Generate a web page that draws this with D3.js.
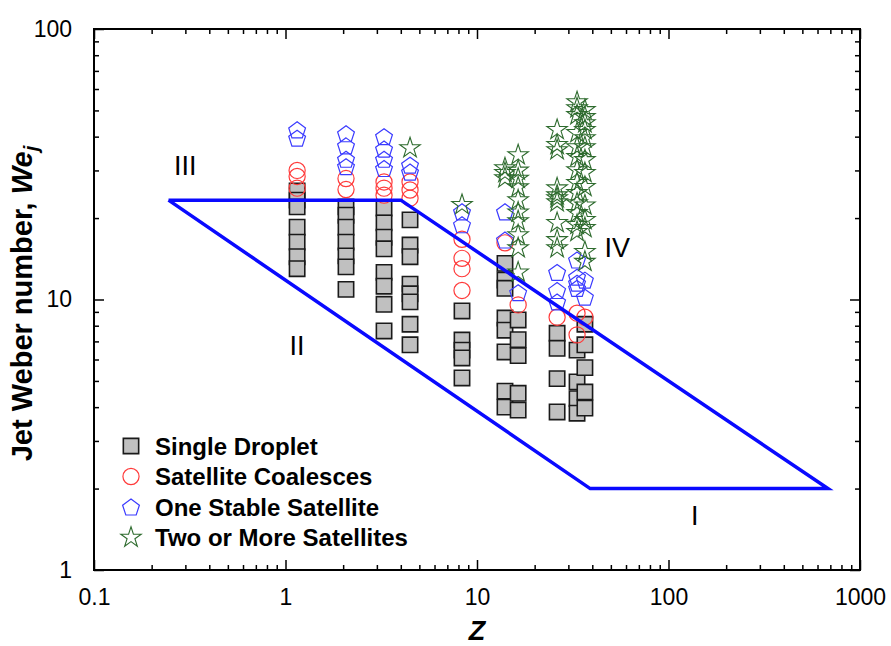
<!DOCTYPE html>
<html>
<head>
<meta charset="utf-8">
<script src="https://cdn.jsdelivr.net/npm/d3@7"></script>
<style>
  body { margin: 0; background: #fff; }
  svg { display: block; font-family: "Liberation Sans", Arial, sans-serif; }
</style>
</head>
<body>
<svg id="chart" width="891" height="646"></svg>
<script>
// Z column positions (one per group of measurements)
const colZ = [1.15, 2.07, 3.27, 4.47, 8.35, 14.0, 16.4, 26.2, 33.3, 36.6];

// We_j values per column
const singleDroplet = [
    [25.2, 23.3, 22.0, 18.5, 16.3, 14.4, 13.0],
    [22.0, 20.5, 18.5, 16.3, 14.5, 13.2, 10.9],
    [21.8, 19.2, 17.0, 15.4, 12.6, 11.2, 9.6, 7.65],
    [19.7, 15.9, 14.4, 11.4, 10.5, 9.8, 8.1, 6.8],
    [9.07, 7.08, 6.5, 6.08, 5.13],
    [13.6, 11.8, 11.0, 8.54, 7.7, 6.4, 4.58, 4.0],
    [8.4, 7.1, 6.2, 4.5, 3.9],
    [7.5, 6.6, 5.1, 3.84],
    [6.5, 4.96, 4.3, 3.8],
    [8.1, 6.8, 5.6, 4.55, 3.97]
];
const satelliteCoalesces = [
    [30.0, 28.5, 25.8],
    [28.0, 25.5],
    [27.2, 25.8, 24.3],
    [27.2, 25.4, 23.7],
    [16.7, 14.2, 13.0, 10.8],
    [16.2],
    [9.55],
    [8.6],
    [8.9, 7.4],
    [8.6]
];
const oneStableSatellite = [
    [42.4, 39.5],
    [41.0, 37.0, 33.0, 31.0],
    [40.0, 36.0, 33.0, 30.5],
    [31.4, 29.6],
    [21.1, 18.9],
    [21.1, 16.6],
    [10.6],
    [12.6, 10.8, 9.8],
    [14.0, 12.1, 11.5, 11.0],
    [11.8, 10.2]
];
const twoOrMoreSatellites = [
    [],
    [],
    [],
    [36.3],
    [22.4],
    [30.6, 29.4, 28.1],
    [34.2, 30.0, 28.0, 26.0, 23.3, 21.0, 19.5, 17.3, 15.5, 12.6],
    [42.4, 37.3, 35.7, 25.8, 24.3, 23.7, 22.9, 19.2, 16.6, 15.5],
    [53.7, 51.0, 48.1, 41.3, 36.6, 33.7, 30.1, 27.0, 24.8, 22.7, 20.9, 18.9, 17.8],
    [50.2, 47.3, 44.9, 42.4, 39.5, 36.6, 32.8, 29.4, 26.1, 22.3, 19.7, 18.4, 15.0, 13.8]
];

// regime boundary
const boundaryZ = [0.245, 4.0, 680, 39, 0.245];
const boundaryWe = [23.3, 23.3, 2.0, 2.0, 23.3];

// regime labels
const regionNames = ["III", "II", "IV", "I"];
const regionZ = [0.30, 1.15, 54, 137];
const regionWe = [31.4, 6.8, 15.6, 1.6];

const legendNames = ["Single Droplet", "Satellite Coalesces", "One Stable Satellite", "Two or More Satellites"];

const xTicks = [0.1, 1, 10, 100, 1000];
const yTicks = [1, 10, 100];

const margin = { left: 94, right: 31, top: 29, bottom: 76 };
const width = 891, height = 646;

const svg = d3.select("#chart");

const x = d3.scaleLog().domain([0.1, 1000]).range([margin.left, width - margin.right]);
const y = d3.scaleLog().domain([1, 100]).range([height - margin.bottom, margin.top]);

function minors(domain) {
    const out = [];
    for (let d = domain[0]; d < domain[1]; d *= 10)
        for (let k = 2; k <= 9; k++) out.push(d * k);
    return out;
}
const xMinor = minors(x.domain());
const yMinor = minors(y.domain());

// pentagon symbol, point up
const symbolPentagon = {
    draw(context, size) {
        const r = Math.sqrt(size / 2.3776);
        for (let i = 0; i < 5; i++) {
            const a = -Math.PI / 2 + i * 2 * Math.PI / 5;
            const px = r * Math.cos(a), py = r * Math.sin(a) + r * 0.1;
            if (i === 0) context.moveTo(px, py); else context.lineTo(px, py);
        }
        context.closePath();
    }
};

const styles = [
    { type: d3.symbolSquare, size: 235, fill: "#c0c0c0", stroke: "#1a1a1a", sw: 1.6 },
    { type: d3.symbolCircle, size: 205, fill: "none", stroke: "#ff3b3b", sw: 1.2 },
    { type: symbolPentagon, size: 185, fill: "none", stroke: "#3b3bff", sw: 1.2 },
    { type: d3.symbolStar, size: 130, fill: "none", stroke: "#2e6b2e", sw: 1.1 }
];

const series = [singleDroplet, satelliteCoalesces, oneStableSatellite, twoOrMoreSatellites];

// axes (ticks point inward on all sides)
const axisStyle = g => {
    g.select(".domain").remove();
    g.selectAll(".tick line").attr("stroke", "#000").attr("stroke-width", 1.5);
    g.selectAll(".tick text").attr("font-size", 23).attr("fill", "#000").attr("font-family", "Liberation Sans, Arial, sans-serif");
};

svg.append("g").attr("transform", `translate(0,${y.range()[0]})`)
    .call(d3.axisBottom(x).tickValues(xTicks).tickFormat(d3.format("")).tickSizeInner(-10).tickPadding(19))
    .call(axisStyle);
svg.append("g").attr("transform", `translate(0,${y.range()[0]})`)
    .call(d3.axisBottom(x).tickValues(xMinor).tickFormat("").tickSizeInner(-5))
    .call(axisStyle);
svg.append("g").attr("transform", `translate(0,${y.range()[1]})`)
    .call(d3.axisTop(x).tickValues(xTicks).tickFormat("").tickSizeInner(-10))
    .call(axisStyle);
svg.append("g").attr("transform", `translate(0,${y.range()[1]})`)
    .call(d3.axisTop(x).tickValues(xMinor).tickFormat("").tickSizeInner(-5))
    .call(axisStyle);
svg.append("g").attr("transform", `translate(${x.range()[0]},0)`)
    .call(d3.axisLeft(y).tickValues(yTicks).tickFormat(d3.format("")).tickSizeInner(-10).tickPadding(22))
    .call(axisStyle);
svg.append("g").attr("transform", `translate(${x.range()[0]},0)`)
    .call(d3.axisLeft(y).tickValues(yMinor).tickFormat("").tickSizeInner(-5))
    .call(axisStyle);
svg.append("g").attr("transform", `translate(${x.range()[1]},0)`)
    .call(d3.axisRight(y).tickValues(yTicks).tickFormat("").tickSizeInner(-10))
    .call(axisStyle);
svg.append("g").attr("transform", `translate(${x.range()[1]},0)`)
    .call(d3.axisRight(y).tickValues(yMinor).tickFormat("").tickSizeInner(-5))
    .call(axisStyle);

// frame
svg.append("rect")
    .attr("x", x.range()[0]).attr("y", y.range()[1])
    .attr("width", x.range()[1] - x.range()[0])
    .attr("height", y.range()[0] - y.range()[1])
    .attr("fill", "none").attr("stroke", "#000").attr("stroke-width", 2);

// markers
series.forEach((cols, si) => {
    const st = styles[si];
    const pts = [];
    cols.forEach((vals, ci) => vals.forEach(v => pts.push({ z: colZ[ci], we: v })));
    svg.append("g").selectAll("path")
        .data(pts)
        .enter()
        .append("path")
        .attr("transform", d => `translate(${x(d.z)},${y(d.we)})`)
        .attr("d", d3.symbol(st.type, st.size))
        .attr("fill", st.fill)
        .attr("stroke", st.stroke)
        .attr("stroke-width", st.sw);
});

// regime boundary
const line = d3.line().x(d => x(d[0])).y(d => y(d[1]));
svg.append("path")
    .attr("d", line(boundaryZ.map((z, i) => [z, boundaryWe[i]])))
    .attr("fill", "none")
    .attr("stroke", "#0a0aff")
    .attr("stroke-width", 3.5)
    .attr("stroke-linejoin", "miter");

svg.append("g").selectAll("text")
    .data(regionNames)
    .enter()
    .append("text")
    .attr("x", (d, i) => x(regionZ[i]))
    .attr("y", (d, i) => y(regionWe[i]))
    .attr("dy", "0.36em")
    .attr("text-anchor", "middle")
    .attr("font-size", 27)
    .text(d => d);

// legend
const legend = svg.append("g").attr("transform", "translate(131,446)");
legendNames.forEach((name, i) => {
    const st = styles[i];
    const row = legend.append("g").attr("transform", `translate(0,${i * 30.5})`);
    row.append("path")
        .attr("d", d3.symbol(st.type, st.size))
        .attr("fill", st.fill)
        .attr("stroke", st.stroke)
        .attr("stroke-width", st.sw);
    row.append("text")
        .attr("x", 24)
        .attr("dy", "0.36em")
        .attr("font-size", 24)
        .attr("font-weight", "bold")
        .text(name);
});

// axis titles
svg.append("text")
    .attr("x", (x.range()[0] + x.range()[1]) / 2)
    .attr("y", 640)
    .attr("text-anchor", "middle")
    .attr("font-size", 27)
    .attr("font-weight", "bold")
    .attr("font-style", "italic")
    .text("Z");

const yTitle = svg.append("text")
    .attr("transform", `translate(32,${(y.range()[0] + y.range()[1]) / 2 + 4}) rotate(-90)`)
    .attr("text-anchor", "middle")
    .attr("font-size", 29)
    .attr("font-weight", "bold");
yTitle.append("tspan").text("Jet Weber number, ");
yTitle.append("tspan").attr("font-style", "italic").text("We");
yTitle.append("tspan").attr("font-style", "italic").attr("font-size", 20).attr("dy", 6).text("j");
</script>
</body>
</html>
